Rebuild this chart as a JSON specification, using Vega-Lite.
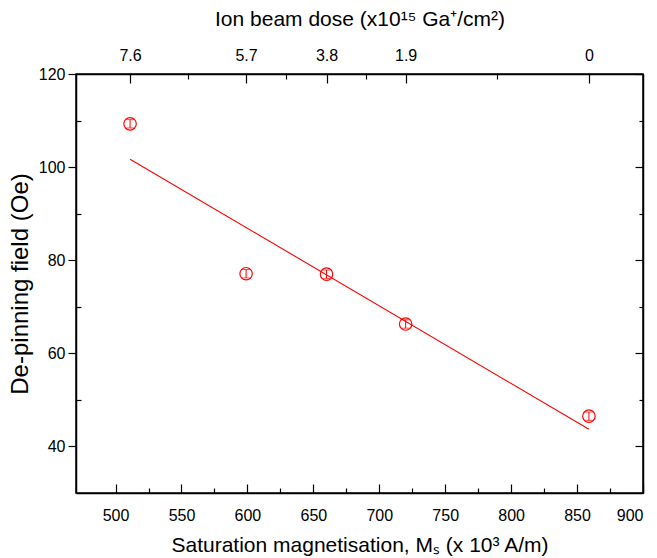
{
  "$schema": "https://vega.github.io/schema/vega-lite/v6.json",
  "width": 567,
  "height": 419,
  "autosize": "none",
  "padding": {"left": 76, "top": 74, "right": 14, "bottom": 65},
  "background": "white",
  "config": {
    "view": {"stroke": "black", "strokeWidth": 1.5},
    "font": "Liberation Sans",
    "axis": {
      "labelFont": "Liberation Sans",
      "titleFont": "Liberation Sans",
      "labelFontSize": 16,
      "titleFontSize": 21,
      "titleFontWeight": "normal",
      "labelColor": "black",
      "titleColor": "black",
      "tickColor": "black",
      "domainColor": "black",
      "domainWidth": 1.5,
      "tickWidth": 1.2,
      "grid": false
    }
  },
  "datasets": {
    "pts": [
      {"Ms": 511, "H": 109.3, "lo": 108.4, "hi": 110.2, "dose": 7.6},
      {"Ms": 599, "H": 77.1, "lo": 76.2, "hi": 78.0, "dose": 5.7},
      {"Ms": 660, "H": 77.0, "lo": 76.1, "hi": 77.9, "dose": 3.8},
      {"Ms": 720, "H": 66.3, "lo": 65.4, "hi": 67.2, "dose": 1.9},
      {"Ms": 859, "H": 46.5, "lo": 45.6, "hi": 47.4, "dose": 0}
    ],
    "fit": [
      {"Ms": 511, "H": 101.7},
      {"Ms": 859, "H": 43.7}
    ]
  },
  "resolve": {"axis": {"x": "independent", "y": "independent"}},
  "layer": [
    {
      "data": {"name": "fit"},
      "mark": {"type": "line", "color": "#ff0000", "strokeWidth": 1.1},
      "encoding": {
        "x": {"field": "Ms", "type": "quantitative",
          "scale": {"domain": [470, 900], "nice": false, "zero": false},
          "axis": {"orient": "bottom", "values": [500, 550, 600, 650, 700, 750, 800, 850, 900],
            "tickSize": -9, "labelPadding": 23, "domain": true,
            "title": "Saturation magnetisation, Mₛ (x 10³ A/m)", "titlePadding": 11}},
        "y": {"field": "H", "type": "quantitative",
          "scale": {"domain": [30, 120], "nice": false, "zero": false},
          "axis": {"orient": "left", "values": [40, 60, 80, 100, 120],
            "tickSize": 8, "labelPadding": 3, "domain": true,
            "title": "De-pinning field (Oe)", "titleFontSize": 24, "titlePadding": 6}}
      }
    },
    {
      "data": {"name": "pts"},
      "mark": {"type": "rule", "color": "#ff0000", "strokeWidth": 1},
      "encoding": {
        "x": {"field": "Ms", "type": "quantitative",
          "scale": {"domain": [470, 900], "nice": false, "zero": false},
          "axis": {"orient": "bottom", "values": [525, 575, 625, 675, 725, 775, 825, 875],
            "tickSize": -5, "labels": false, "domain": false, "title": null}},
        "y": {"field": "lo", "type": "quantitative",
          "scale": {"domain": [30, 120], "nice": false, "zero": false},
          "axis": {"orient": "left", "values": [50, 70, 90, 110],
            "tickSize": -5, "labels": false, "domain": false, "title": null}},
        "y2": {"field": "hi"}
      }
    },
    {
      "data": {"name": "pts"},
      "mark": {"type": "tick", "orient": "horizontal", "color": "#ff0000", "size": 8, "thickness": 1},
      "encoding": {
        "x": {"field": "Ms", "type": "quantitative",
          "scale": {"domain": [470, 900], "nice": false, "zero": false},
          "axis": {"orient": "top", "values": [511, 599, 660, 720, 859],
            "labelExpr": "datum.value == 511 ? '7.6' : datum.value == 599 ? '5.7' : datum.value == 660 ? '3.8' : datum.value == 720 ? '1.9' : '0'",
            "tickSize": -9, "labelPadding": 20, "domain": true,
            "title": "Ion beam dose (x10¹⁵ Ga⁺/cm²)", "titlePadding": 18}},
        "y": {"field": "lo", "type": "quantitative",
          "scale": {"domain": [30, 120], "nice": false, "zero": false},
          "axis": {"orient": "right", "values": [40, 60, 80, 100, 120],
            "tickSize": -8, "labels": false, "domain": true, "title": null}}
      }
    },
    {
      "data": {"name": "pts"},
      "mark": {"type": "tick", "orient": "horizontal", "color": "#ff0000", "size": 8, "thickness": 1},
      "encoding": {
        "x": {"field": "Ms", "type": "quantitative", "axis": null},
        "y": {"field": "hi", "type": "quantitative", "axis": null}
      }
    },
    {
      "data": {"name": "pts"},
      "mark": {"type": "point", "shape": "circle", "filled": false, "color": "#ff0000", "size": 155, "strokeWidth": 1.2, "opacity": 1},
      "encoding": {
        "x": {"field": "Ms", "type": "quantitative",
          "scale": {"domain": [470, 900], "nice": false, "zero": false},
          "axis": {"orient": "top", "values": [555, 629.5, 690, 789.5],
            "tickSize": -5, "labels": false, "domain": false, "title": null}},
        "y": {"field": "H", "type": "quantitative",
          "scale": {"domain": [30, 120], "nice": false, "zero": false},
          "axis": {"orient": "right", "values": [50, 70, 90, 110],
            "tickSize": -4, "labels": false, "domain": false, "title": null}}
      }
    }
  ]
}
